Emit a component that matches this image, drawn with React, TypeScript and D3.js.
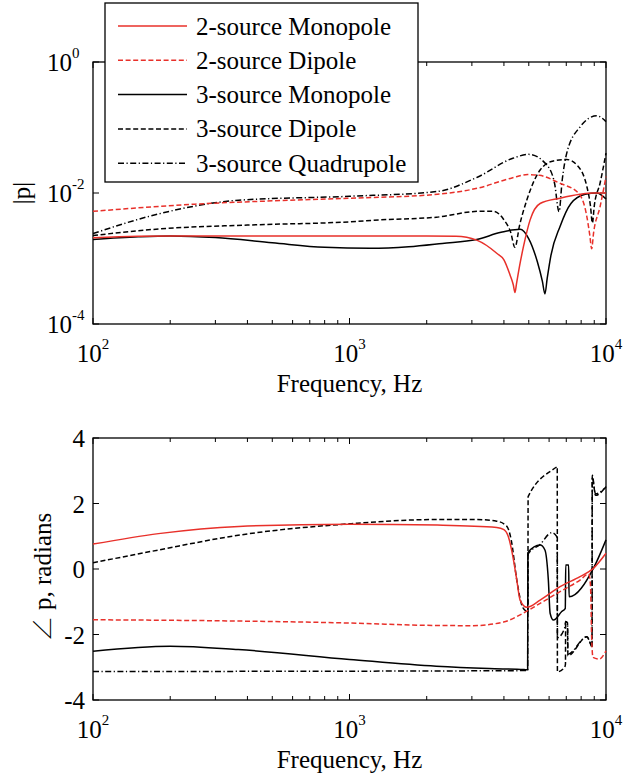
import React from "react";
import * as d3 from "d3";

// ---------- DATA ----------
const seriesNames = [
  "2-source Monopole",
  "2-source Dipole",
  "3-source Monopole",
  "3-source Dipole",
  "3-source Quadrupole",
];

// |p| (top panel)
const magF2Mono = [100, 150, 200, 500, 1000, 2000, 2600, 3133, 3750, 4000, 4225, 4350, 4416, 4480, 4600, 4766, 5060, 5535, 6620, 7920, 8900, 10000];
const magV2Mono = [2.065e-3, 2.188e-3, 2.213e-3, 2.213e-3, 2.213e-3, 2.213e-3, 2.188e-3, 1.905e-3, 1.202e-3, 9.55e-4, 5.62e-4, 3.98e-4, 3.02e-4, 4.17e-4, 7.59e-4, 1.514e-3, 3.89e-3, 6.92e-3, 8.32e-3, 9.55e-3, 1.0e-2, 1.0e-2];

const magF2Dip = [100, 250, 500, 1000, 2200, 3200, 4300, 4950, 5500, 6600, 7800, 8420, 8650, 8790, 8950, 9480, 10000];
const magV2Dip = [5.25e-3, 6.76e-3, 7.59e-3, 8.32e-3, 9.55e-3, 1.2e-2, 1.7e-2, 1.91e-2, 1.86e-2, 1.41e-2, 1.0e-2, 4.37e-3, 2.24e-3, 1.41e-3, 2.51e-3, 6.17e-3, 1.78e-2];

const magF3Mono = [100, 150, 200, 300, 500, 800, 1200, 1700, 2300, 3130, 3900, 4625, 5000, 5400, 5650, 5780, 5900, 6100, 6620, 7300, 8300, 9200, 10000];
const magV3Mono = [1.95e-3, 2.14e-3, 2.21e-3, 2.09e-3, 1.74e-3, 1.48e-3, 1.43e-3, 1.51e-3, 1.7e-3, 1.95e-3, 2.51e-3, 2.79e-3, 2.0e-3, 8.9e-4, 4.47e-4, 2.88e-4, 5.0e-4, 1.12e-3, 3.09e-3, 6.92e-3, 9.55e-3, 1.0e-2, 8.13e-3];

const magF3Dip = [100, 180, 400, 1000, 1315, 2180, 3200, 3640, 3985, 4250, 4416, 4600, 4910, 5535, 6240, 7030, 7690, 8420, 8700, 8850, 9000, 9480, 10000];
const magV3Dip = [2.24e-3, 2.82e-3, 3.24e-3, 3.63e-3, 3.89e-3, 4.27e-3, 5.25e-3, 5.25e-3, 3.98e-3, 2.51e-3, 1.48e-3, 3.16e-3, 7.76e-3, 2.24e-2, 3.09e-2, 3.24e-2, 2.69e-2, 1.26e-2, 6.31e-3, 3.47e-3, 6.31e-3, 1.41e-2, 4.07e-2];

const magF3Quad = [100, 180, 370, 1000, 2180, 3150, 4335, 5000, 5870, 6300, 6560, 6750, 7030, 7920, 9200, 10000];
const magV3Quad = [2.4e-3, 4.79e-3, 7.76e-3, 8.91e-3, 1.05e-2, 1.74e-2, 3.39e-2, 3.89e-2, 2.69e-2, 1.41e-2, 5.19e-3, 1.58e-2, 4.07e-2, 1.02e-1, 1.51e-1, 1.23e-1];

// phase, radians (bottom panel)
const phF2Mono = [100, 180, 370, 1000, 2200, 3750, 4000, 4160, 4335, 4490, 4625, 4910, 5535, 6620, 7920, 8930, 10000];
const phV2Mono = [0.76, 1.08, 1.3, 1.37, 1.34, 1.27, 1.2, 0.99, 0.38, -0.34, -0.95, -1.17, -0.95, -0.54, -0.23, 0.02, 0.48];

const phF2Dip = [100, 300, 1000, 2000, 3000, 3985, 4625, 5535, 6620, 7920, 8560, 8700, 8800, 8900, 9420, 10000];
const phV2Dip = [-1.55, -1.58, -1.65, -1.72, -1.73, -1.62, -1.4, -1.05, -0.69, -0.34, -0.15, -0.5, -2.2, -2.7, -2.75, -2.5];

const phF3Mono = [100, 200, 368, 1000, 2180, 3500, 4790, 4950, 4960, 5535, 5780, 5960, 6055, 6240, 6720, 6940, 6965, 7150, 7180, 8930, 10000];
const phV3Mono = [-2.51, -2.36, -2.46, -2.76, -2.97, -3.04, -3.07, -3.08, 0.5, 0.73, 0.58, -0.34, -1.35, -1.56, -1.3, -1.2, 0.12, 0.12, -0.85, 0.02, 0.89];

const phF3Dip = [100, 180, 368, 1000, 2180, 3120, 3750, 4100, 4270, 4490, 4720, 4910, 4960, 4970, 6430, 6455, 6465, 6900, 6950, 6960, 7080, 7100, 8420, 8690, 8820, 8840, 9100, 10000];
const phV3Dip = [0.19, 0.58, 1.03, 1.38, 1.51, 1.51, 1.46, 1.31, 0.89, -0.34, -1.15, -1.3, -1.32, 2.21, 3.12, 3.13, -3.14, -3.0, -2.9, -1.6, -1.65, -2.65, -2.07, -2.27, -2.4, 2.86, 2.25, 2.52];

const phF3Quad = [100, 1000, 3000, 4950, 4960, 5535, 6140, 6430, 6455, 6465, 6900, 6960, 7080, 7100, 8420, 8820, 8840, 9100, 10000];
const phV3Quad = [-3.13, -3.12, -3.11, -3.1, 0.45, 0.75, 1.11, 0.99, 0.95, -2.1, -1.8, -1.6, -1.65, -2.6, -2.07, -2.35, 2.8, 2.3, 2.5];

const magYTicks = [1e0, 1e-2, 1e-4];
const magYExp = ["0", "-2", "-4"];
const phYTicks = [4, 2, 0, -2, -4];
const xMajor = [100, 1000, 10000];
const xMajorExp = ["2", "3", "4"];

// ---------- STYLE ----------
const RED = "#e8302a";
const BLACK = "#000";
const TXT = { fontFamily: '"Liberation Serif"' };
const ANGLE = { fontFamily: '"Noto Serif CJK SC"' };
const styles = [
  { color: RED, dash: "none" },
  { color: RED, dash: "5,2.6" },
  { color: BLACK, dash: "none" },
  { color: BLACK, dash: "5,2.6" },
  { color: BLACK, dash: "6,2.5,1.2,2.5" },
];

const L = 93, R = 606;
const TOP1 = 62, BOT1 = 324;
const TOP2 = 438, BOT2 = 700;

const x = d3.scaleLog().domain([100, 10000]).range([L, R]);
const yMag = d3.scaleLog().domain([1e-4, 1]).range([BOT1, TOP1]);
const yPh = d3.scaleLinear().domain([-4, 4]).range([BOT2, TOP2]);

function minorTicks(): number[] {
  const t: number[] = [];
  for (const dec of [100, 1000]) for (let k = 2; k <= 9; k++) t.push(dec * k);
  return t;
}

function path(fs: number[], vs: number[], ys: (v: number) => number) {
  const pts = fs.map((f, i) => [x(f), ys(vs[i])] as [number, number]);
  return d3.line().curve(d3.curveMonotoneX)(pts) || "";
}

function Frame({ top, bot }: { top: number; bot: number }) {
  const minor = minorTicks();
  return (
    <g>
      <rect x={L} y={top} width={R - L} height={bot - top} fill="none" stroke="#000" strokeWidth={1.3} />
      {minor.map((t) => (
        <g key={"m" + t}>
          <line x1={x(t)} x2={x(t)} y1={bot} y2={bot - 4} stroke="#000" strokeWidth={1} />
          <line x1={x(t)} x2={x(t)} y1={top} y2={top + 4} stroke="#000" strokeWidth={1} />
        </g>
      ))}
      {xMajor.map((t) => (
        <g key={"M" + t}>
          <line x1={x(t)} x2={x(t)} y1={bot} y2={bot - 6} stroke="#000" strokeWidth={1} />
          <line x1={x(t)} x2={x(t)} y1={top} y2={top + 6} stroke="#000" strokeWidth={1} />
        </g>
      ))}
    </g>
  );
}

function XLabels({ bot }: { bot: number }) {
  return (
    <g fill="#000">
      {xMajor.map((t, i) => (
        <text key={t} x={x(t)} y={bot + 38} fontSize={25} textAnchor="middle" style={TXT}>
          10
          <tspan fontSize={15} dy={-13} style={TXT}>{xMajorExp[i]}</tspan>
        </text>
      ))}
      <text x={(L + R) / 2} y={bot + 68} fontSize={25} textAnchor="middle" style={TXT}>
        Frequency, Hz
      </text>
    </g>
  );
}

export default function App() {
  const magSeries = [
    [magF2Mono, magV2Mono],
    [magF2Dip, magV2Dip],
    [magF3Mono, magV3Mono],
    [magF3Dip, magV3Dip],
    [magF3Quad, magV3Quad],
  ];
  const phSeries = [
    [phF2Mono, phV2Mono],
    [phF2Dip, phV2Dip],
    [phF3Mono, phV3Mono],
    [phF3Dip, phV3Dip],
    [phF3Quad, phV3Quad],
  ];
  const drawOrder = [4, 3, 2, 1, 0];
  return (
    <svg width={623} height={780} style={{ position: "absolute", left: 0, top: 0, background: "#fff" }}>
      <rect x={0} y={0} width={623} height={780} fill="#fff" />
      <defs>
        <clipPath id="c1">
          <rect x={L} y={TOP1 - 2} width={R - L + 2} height={BOT1 - TOP1 + 2} />
        </clipPath>
        <clipPath id="c2">
          <rect x={L} y={TOP2} width={R - L + 2} height={BOT2 - TOP2} />
        </clipPath>
      </defs>

      {/* ---- top panel ---- */}
      <Frame top={TOP1} bot={BOT1} />
      {magYTicks.map((t) => (
        <g key={"yt" + t}>
          <line x1={L} x2={L + 6} y1={yMag(t)} y2={yMag(t)} stroke="#000" />
          <line x1={R} x2={R - 6} y1={yMag(t)} y2={yMag(t)} stroke="#000" />
        </g>
      ))}
      {magYTicks.map((t, i) => (
        <g key={"yl" + t}>
          <text x={72} y={yMag(t) + 9} fontSize={25} textAnchor="end" style={TXT}>10</text>
          <text x={72} y={yMag(t) - 4} fontSize={15} textAnchor="start" style={TXT}>{magYExp[i]}</text>
        </g>
      ))}
      <g clipPath="url(#c1)">
        {drawOrder.map((i) => (
          <path
            key={"mag" + i}
            d={path(magSeries[i][0], magSeries[i][1], (v) => yMag(v))}
            fill="none"
            stroke={styles[i].color}
            strokeWidth={1.5}
            strokeDasharray={styles[i].dash}
          />
        ))}
      </g>
      <XLabels bot={BOT1} />
      <text transform={`translate(30,${(TOP1 + BOT1) / 2}) rotate(-90)`} fontSize={25} textAnchor="middle" style={TXT}>
        |p|
      </text>

      {/* legend */}
      <g>
        <rect x={105} y={3} width={313} height={179} fill="#fff" stroke="#000" strokeWidth={1.3} />
        {seriesNames.map((name, i) => {
          const yy = 26 + i * 34.3;
          return (
            <g key={name}>
              <line x1={118} x2={187} y1={yy} y2={yy} stroke={styles[i].color} strokeWidth={1.5} strokeDasharray={styles[i].dash} />
              <text x={196} y={yy + 8.5} fontSize={25} style={TXT}>{name}</text>
            </g>
          );
        })}
      </g>

      {/* ---- bottom panel ---- */}
      <Frame top={TOP2} bot={BOT2} />
      {phYTicks.map((t) => (
        <g key={"pt" + t}>
          <line x1={L} x2={L + 6} y1={yPh(t)} y2={yPh(t)} stroke="#000" />
          <line x1={R} x2={R - 6} y1={yPh(t)} y2={yPh(t)} stroke="#000" />
          <text x={85} y={yPh(t) + 9} fontSize={25} textAnchor="end" style={TXT}>{String(t)}</text>
        </g>
      ))}
      <g clipPath="url(#c2)">
        {drawOrder.map((i) => (
          <path
            key={"ph" + i}
            d={path(phSeries[i][0], phSeries[i][1], (v) => yPh(v))}
            fill="none"
            stroke={styles[i].color}
            strokeWidth={1.5}
            strokeDasharray={styles[i].dash}
          />
        ))}
      </g>
      <XLabels bot={BOT2} />
      <text transform={`translate(51,${(TOP2 + BOT2) / 2 + 8}) rotate(-90)`} fontSize={25} textAnchor="middle" style={TXT}>
        <tspan style={ANGLE}>∠</tspan> p, radians
      </text>
    </svg>
  );
}
